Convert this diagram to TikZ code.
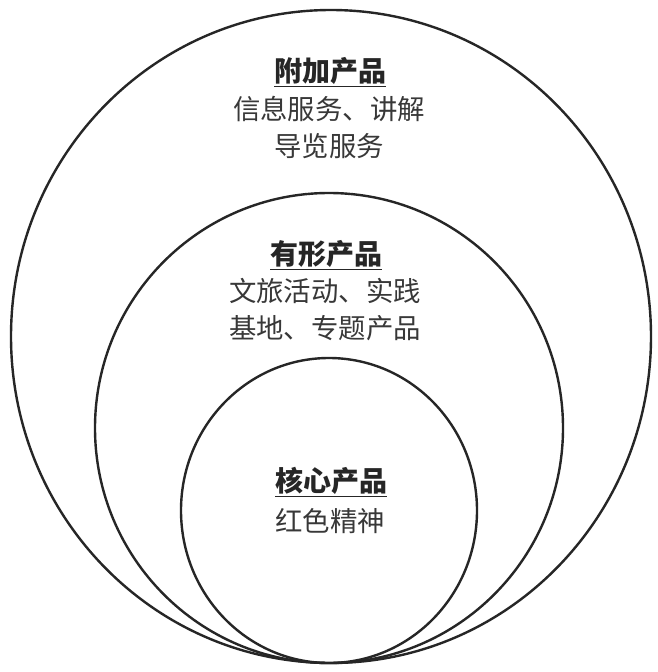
\documentclass[tikz,border=0pt]{standalone}
\usepackage{fontspec}
\newfontfamily\cjk{Noto Sans CJK SC}
\begin{document}
\begin{tikzpicture}[x=1pt,y=-1pt,
  ring/.style={draw=black!85,line width=2.4pt},
  ttl/.style={font=\cjk\bfseries\fontsize{28}{36}\selectfont,text=black!85,inner sep=0pt,anchor=center},
  body/.style={font=\cjk\fontsize{27.4}{37}\selectfont,text=black!78,align=center,inner sep=0pt,anchor=center}]
\useasboundingbox[fill=white] (0,0) rectangle (657,672);
\draw[ring] (331,336.5) ellipse [x radius=320, y radius=326.5];
\draw[ring] (329,428) ellipse [x radius=234, y radius=235];
\draw[ring] (329,510.5) ellipse [x radius=148, y radius=152.5];
\node[ttl] (t1) at (330,72) {\underline{附加产品}};
\node[body] (b1) at (329,127) {信息服务、讲解\\导览服务};
\node[ttl] (t2) at (326,255) {\underline{有形产品}};
\node[body] (b2) at (325,310) {文旅活动、实践\\基地、专题产品};
\node[ttl] (t3) at (331,482) {\underline{核心产品}};
\node[body] (b3) at (330,521) {红色精神};
\end{tikzpicture}
\end{document}
